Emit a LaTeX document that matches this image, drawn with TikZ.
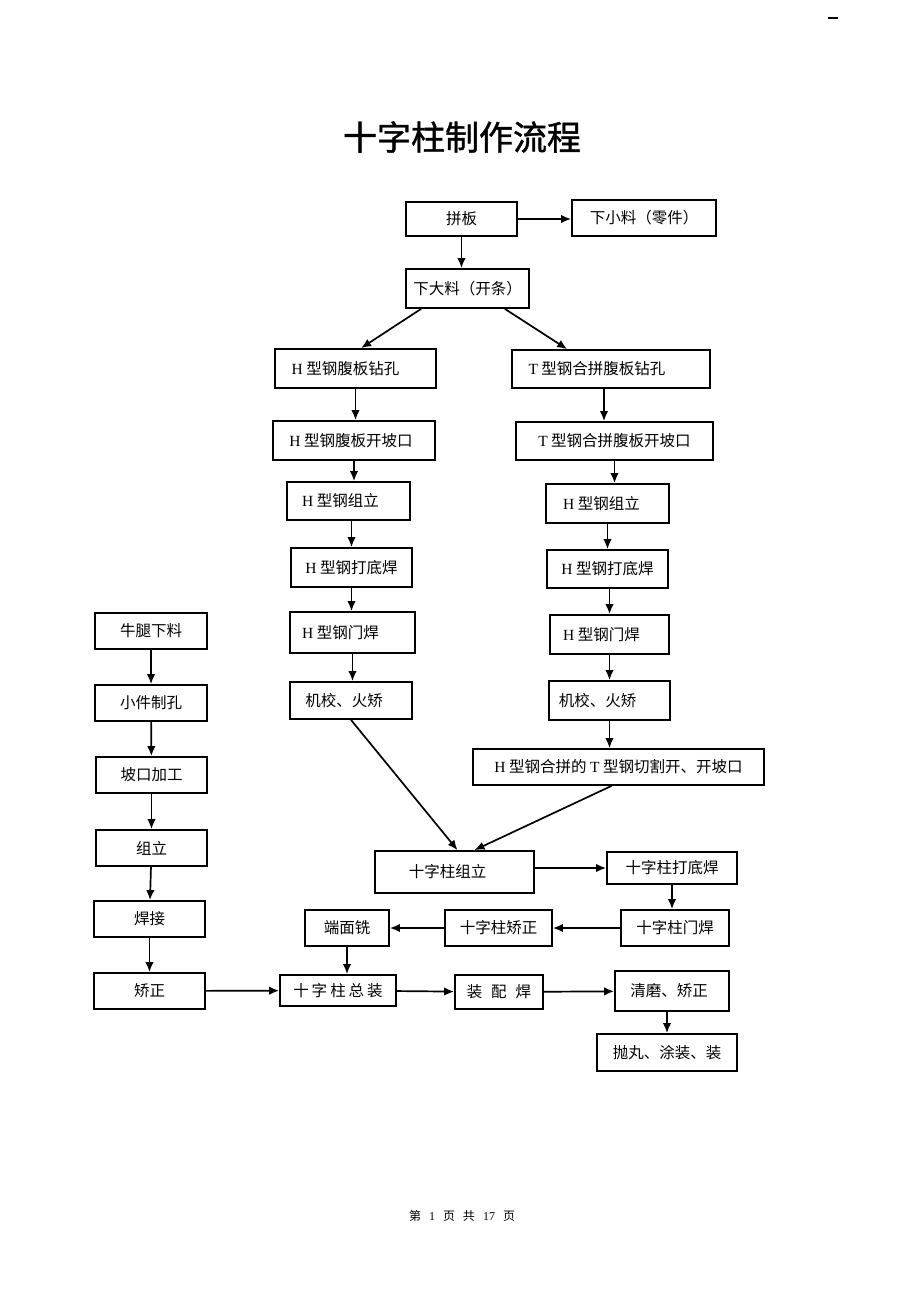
\documentclass[tikz,border=0pt]{standalone}
\usepackage{fontspec}
\setmainfont{Liberation Serif}
\newfontfamily\cjk{Noto Sans CJK SC}
\newfontfamily\cjkhead[FakeBold=1.2]{Noto Sans CJK SC}
\newcommand\lat[1]{{\rmfamily #1}}
\usetikzlibrary{arrows.meta}

\begin{document}
\begin{tikzpicture}[x=1pt,y=1pt,yscale=-1,xscale=1,
  box/.style={draw, line width=1.8pt, inner sep=0pt, font=\fontsize{15.5}{18}\selectfont\cjk},
  flow/.style={line width=1.7pt, -{Latex[length=10pt,width=8.5pt]}}]
\path[use as bounding box] (0,0) rectangle (920,1302);

%Text: page mark and title
\draw [line width=1.5pt] (828,18) -- (838,18) ;
\node [font={\fontsize{34}{40}\selectfont\cjkhead}] (title) at (462,137) {十字柱制作流程};

%Shape: Rectangle - plate cutting
\node [box, minimum width=111, minimum height=34] (pb) at (461.5,219) {拼板};
\node [box, minimum width=144, minimum height=36] (xxl) at (644,218) {下小料（零件）};
\node [box, minimum width=123, minimum height=39] (xdl) at (467.5,288.5) {下大料（开条）};

%Shape: Rectangle - H branch
\node [box, minimum width=161, minimum height=39] (hzk) at (355.5,368.5) {\lat{H} 型钢腹板钻孔\kern20pt};
\node [box, minimum width=162, minimum height=39] (hpk) at (354,440.5) {\lat{H} 型钢腹板开坡口\kern6pt};
\node [box, minimum width=123, minimum height=38] (hzl) at (348.5,501) {\lat{H} 型钢组立\kern16pt};
\node [box, minimum width=121, minimum height=39] (hdd) at (351.5,567.5) {\lat{H} 型钢打底焊};
\node [box, minimum width=125, minimum height=41] (hmh) at (352.5,632.5) {\lat{H} 型钢门焊\kern24pt};
\node [box, minimum width=122, minimum height=37] (hjx) at (351,700.5) {机校、火矫\kern14pt};

%Shape: Rectangle - T branch
\node [box, minimum width=198, minimum height=38] (tzk) at (611,369) {\lat{T} 型钢合拼腹板钻孔\kern28pt};
\node [box, minimum width=197, minimum height=38] (tpk) at (614.5,441) {\lat{T} 型钢合拼腹板开坡口};
\node [box, minimum width=123, minimum height=39] (tzl) at (607.5,503.5) {\lat{H} 型钢组立\kern12pt};
\node [box, minimum width=121, minimum height=38] (tdd) at (607.5,569) {\lat{H} 型钢打底焊};
\node [box, minimum width=119, minimum height=39] (tmh) at (609.5,634.5) {\lat{H} 型钢门焊\kern16pt};
\node [box, minimum width=121, minimum height=39] (tjx) at (609.5,700.5) {机校、火矫\kern24pt};
\node [box, minimum width=291, minimum height=36] (qg) at (618.5,767) {\lat{H} 型钢合拼的 \lat{T} 型钢切割开、开坡口};

%Shape: Rectangle - bracket column
\node [box, minimum width=112, minimum height=36] (ntl) at (151,631) {牛腿下料};
\node [box, minimum width=112, minimum height=36] (xjk) at (151,703) {小件制孔};
\node [box, minimum width=111, minimum height=36] (pkj) at (151.5,775) {坡口加工};
\node [box, minimum width=111, minimum height=36] (nzl) at (151.5,848) {组立};
\node [box, minimum width=111, minimum height=36] (nhj) at (149.5,919) {焊接};
\node [box, minimum width=111, minimum height=36] (njz) at (149.5,991) {矫正};

%Shape: Rectangle - cross column
\node [box, minimum width=159, minimum height=42] (szl) at (454.5,872) {十字柱组立\kern14pt};
\node [box, minimum width=130, minimum height=32] (sdd) at (672,868) {十字柱打底焊};
\node [box, minimum width=108, minimum height=36] (smh) at (675,928) {十字柱门焊};
\node [box, minimum width=107, minimum height=36] (sjz) at (498.5,928) {十字柱矫正};
\node [box, minimum width=84, minimum height=36] (dmx) at (347,928) {端面铣};
\node [box, minimum width=116, minimum height=31] (szz) at (338,990.5) {十\hspace{3pt}字\hspace{3pt}柱\hspace{3pt}总\hspace{3pt}装};
\node [box, minimum width=88, minimum height=34] (pfh) at (499,992) {装\hspace{9pt}配\hspace{9pt}焊};
\node [box, minimum width=114, minimum height=40] (qmj) at (672,991) {清磨、矫正\kern6pt};
\node [box, minimum width=140, minimum height=37] (pwt) at (667,1052.5) {抛丸、涂装、装};

%Text: footer
\node [font={\fontsize{12}{14}\selectfont}] (ym) at (462,1216) {{\cjk 第}\hspace{8pt}1\hspace{8pt}{\cjk 页}\hspace{8pt}{\cjk 共}\hspace{8pt}17\hspace{8pt}{\cjk 页}};

%Straight Lines - top
\draw [flow] (pb.east) -- (pb.east -| xxl.west) ;
\draw [flow] (pb.south) -- (pb.south |- xdl.north) ;
\draw [flow] ([xshift=16pt]xdl.south west) -- ([xshift=87pt]hzk.north west) ;
\draw [flow] ([xshift=-25pt]xdl.south east) -- ([xshift=56pt]tzk.north west) ;

%Straight Lines - H branch
\draw [flow] (hzk.south) -- (hzk.south |- hpk.north) ;
\draw [flow] (hpk.south) -- (hpk.south |- hzl.north) ;
\draw [flow] (hdd.north |- hzl.south) -- (hdd.north) ;
\draw [flow] (hdd.south) -- (hdd.south |- hmh.north) ;
\draw [flow] (hmh.south) -- (hmh.south |- hjx.north) ;
\draw [flow] (hjx.south) -- ([xshift=3pt]szl.north) ;

%Straight Lines - T branch
\draw [flow] ([xshift=-7pt]tzk.south) -- ([xshift=-7pt]tzk.south |- tpk.north) ;
\draw [flow] (tpk.south) -- (tpk.south |- tzl.north) ;
\draw [flow] (tzl.south) -- (tzl.south |- tdd.north) ;
\draw [flow] (tmh.north |- tdd.south) -- (tmh.north) ;
\draw [flow] (tmh.south) -- (tmh.south |- tjx.north) ;
\draw [flow] (tjx.south) -- (tjx.south |- qg.north) ;
\draw [flow] ([xshift=-7pt]qg.south) -- ([xshift=20pt]szl.north) ;

%Straight Lines - bracket column
\draw [flow] (ntl) -- (xjk) ;
\draw [flow] (xjk) -- (pkj) ;
\draw [flow] (pkj) -- (nzl) ;
\draw [flow] (nzl) -- (nhj) ;
\draw [flow] (nhj) -- (njz) ;
\draw [flow] (njz) -- (szz) ;

%Straight Lines - cross column
\draw [flow] (sdd.west -| szl.east) -- (sdd.west) ;
\draw [flow] (sdd.south) -- (sdd.south |- smh.north) ;
\draw [flow] (smh) -- (sjz) ;
\draw [flow] (sjz) -- (dmx) ;
\draw [flow] (dmx.south) -- (dmx.south |- szz.north) ;
\draw [flow] (szz) -- (pfh) ;
\draw [flow] (pfh) -- (qmj) ;
\draw [flow] (pwt.north |- qmj.south) -- (pwt.north) ;

\end{tikzpicture}
\end{document}
